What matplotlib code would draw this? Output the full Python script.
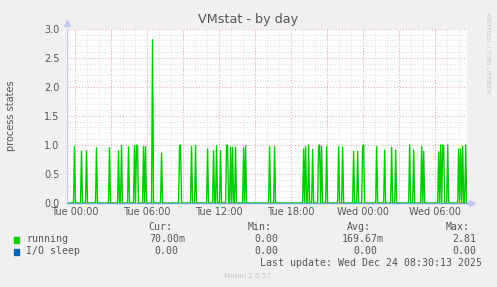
import numpy as np
import matplotlib.pyplot as plt
from matplotlib.ticker import MultipleLocator

# --- data (hours since Tue 00:00, 5 min samples) ---
SPIKE_HOURS = [-0.03, 0.53, 0.94, 1.78, 2.86, 3.61, 3.86, 4.44, 4.94, 5.11, 5.22,
               5.69, 5.86, 6.44, 7.19, 8.75, 8.81, 9.69, 10.03, 11.03, 11.53, 11.78,
               12.11, 12.61, 12.72, 13.0, 13.17, 13.36, 14.03, 14.25, 16.19, 16.61,
               19.06, 19.25, 19.44, 19.83, 20.31, 20.42, 20.56, 20.97, 21.94, 22.33,
               23.19, 23.53, 23.94, 24.06, 25.11, 25.83, 26.39, 26.69, 27.92, 28.19,
               28.92, 29.03, 30.28, 30.5, 30.61, 30.75, 31.03, 31.97, 32.17, 32.31, 32.53]
SPIKE_VALUES = [0.97, 0.89, 0.90, 0.95, 0.95, 0.90, 0.99, 0.97, 0.99, 1.00, 0.97,
                0.97, 0.97, 2.81, 0.86, 0.97, 1.00, 0.97, 0.99, 0.93, 0.90, 0.99,
                0.90, 0.98, 1.00, 0.96, 0.96, 0.96, 0.95, 0.99, 0.97, 0.97,
                0.93, 0.97, 1.00, 0.92, 0.99, 1.00, 0.97, 0.97, 0.97, 0.96,
                0.89, 0.89, 0.97, 1.00, 0.97, 0.91, 0.96, 0.91, 1.00, 0.91,
                0.97, 0.89, 0.88, 1.00, 1.00, 0.97, 1.00, 0.93, 0.93, 0.98, 1.00]

T_START, T_END = -0.70, 32.70
STEP = 5 / 60.0

TICK_HOURS = [0, 6, 12, 18, 24, 30]
TICK_LABELS = ["Tue 00:00", "Tue 06:00", "Tue 12:00", "Tue 18:00", "Wed 00:00", "Wed 06:00"]

LEGEND_NAMES = ["running", "I/O sleep"]
LEGEND_COLORS = ["#00CC00", "#0066B3"]
CUR = ["70.00m", "0.00"]
MIN = ["0.00", "0.00"]
AVG = ["169.67m", "0.00"]
MAX = ["2.81", "0.00"]

# rrd-style sample series
t = np.arange(T_START, T_END + STEP / 2, STEP)
running = np.zeros_like(t)
for h, v in zip(SPIKE_HOURS, SPIKE_VALUES):
    running[np.argmin(np.abs(t - h))] = v
iosleep = np.zeros_like(t)

W, H = 497, 287
fig = plt.figure(figsize=(W / 100, H / 100), dpi=100, facecolor="#F0F0F0")

def px(x, y):
    return x / W, 1 - y / H

ax = fig.add_axes([66.5 / W, 1 - 203 / H, 401 / W, (203 - 28.7) / H])
ax.set_facecolor("white")
ax.set_xlim(T_START, T_END)
ax.set_ylim(0, 3.0)

# grid: red every 3h / 0.5, grey every 1h / 0.1
ax.xaxis.set_major_locator(MultipleLocator(6))
ax.xaxis.set_minor_locator(MultipleLocator(1))
ax.yaxis.set_major_locator(MultipleLocator(0.5))
ax.yaxis.set_minor_locator(MultipleLocator(0.1))
ax.grid(True, which="minor", color="#d4d4d4", linestyle=(0, (1, 2)), linewidth=0.6)
ax.grid(True, which="major", color="#e4a4a4", linestyle=(0, (1, 2)), linewidth=0.7)
ax.set_axisbelow(True)
for hh in np.arange(3, 33, 6):
    ax.axvline(hh, color="#e4a4a4", linestyle=(0, (1, 2)), lw=0.7, zorder=0.5)

ax.plot(t, iosleep, color=LEGEND_COLORS[1], lw=1.0, alpha=0.55, clip_on=False)
ax.plot(t, running, color=LEGEND_COLORS[0], lw=1.0)

for s in ax.spines.values():
    s.set_visible(False)
ax.axvline(T_START, color="#c4caf2", lw=1.0)
ax.plot([0], [1.03], marker="^", color="#c4caf2", ms=4, transform=ax.transAxes, clip_on=False)
ax.plot([1.012], [0], marker=">", color="#c4caf2", ms=4, transform=ax.transAxes, clip_on=False)

ax.set_xticks(TICK_HOURS)
ax.set_xticklabels(TICK_LABELS)
ax.set_yticks([0, 0.5, 1.0, 1.5, 2.0, 2.5, 3.0])
ax.set_yticklabels(["0.0", "0.5", "1.0", "1.5", "2.0", "2.5", "3.0"])
ax.tick_params(which="both", length=0, labelsize=7, colors="#555555", pad=3)
ax.tick_params(axis="y", pad=5)

fig.text(*px(248, 19), "VMstat - by day", ha="center", va="center", fontsize=9.2, color="#555555")
fig.text(*px(11, 116), "process states", ha="center", va="center", rotation=90, fontsize=7, color="#555555")
fig.text(*px(488, 53), "RRDTOOL / TOBI OETIKER", ha="center", va="center", rotation=270,
         fontsize=4.6, color="#c8c8c8")

mono = dict(family="DejaVu Sans Mono", fontsize=7.1, color="#555555", va="center")
fig.text(*px(172, 227), "Cur:", ha="right", **mono)
fig.text(*px(272, 227), "Min:", ha="right", **mono)
fig.text(*px(371, 227), "Avg:", ha="right", **mono)
fig.text(*px(470, 227), "Max:", ha="right", **mono)

rows_y = [239.5, 251.5]
for i, yy in enumerate(rows_y):
    fig.patches.append(plt.Rectangle(px(14, yy + 3), 5 / W, 6 / H, transform=fig.transFigure,
                                     color=LEGEND_COLORS[i]))
    fig.text(*px(26.5, yy), LEGEND_NAMES[i], ha="left", **mono)
    cur_r = 185 if CUR[i].endswith("m") else 178.5
    avg_r = 384 if AVG[i].endswith("m") else 377.5
    fig.text(*px(cur_r, yy), CUR[i], ha="right", **mono)
    fig.text(*px(278.5, yy), MIN[i], ha="right", **mono)
    fig.text(*px(avg_r, yy), AVG[i], ha="right", **mono)
    fig.text(*px(476.5, yy), MAX[i], ha="right", **mono)

fig.text(*px(482.5, 263.3), "Last update: Wed Dec 24 08:30:13 2025", ha="right", **mono)
fig.text(*px(248, 276), "Munin 2.0.57", ha="center", va="center", fontsize=5.2, color="#c4c4c4")

fig.savefig("out.png", dpi=100, facecolor=fig.get_facecolor())
